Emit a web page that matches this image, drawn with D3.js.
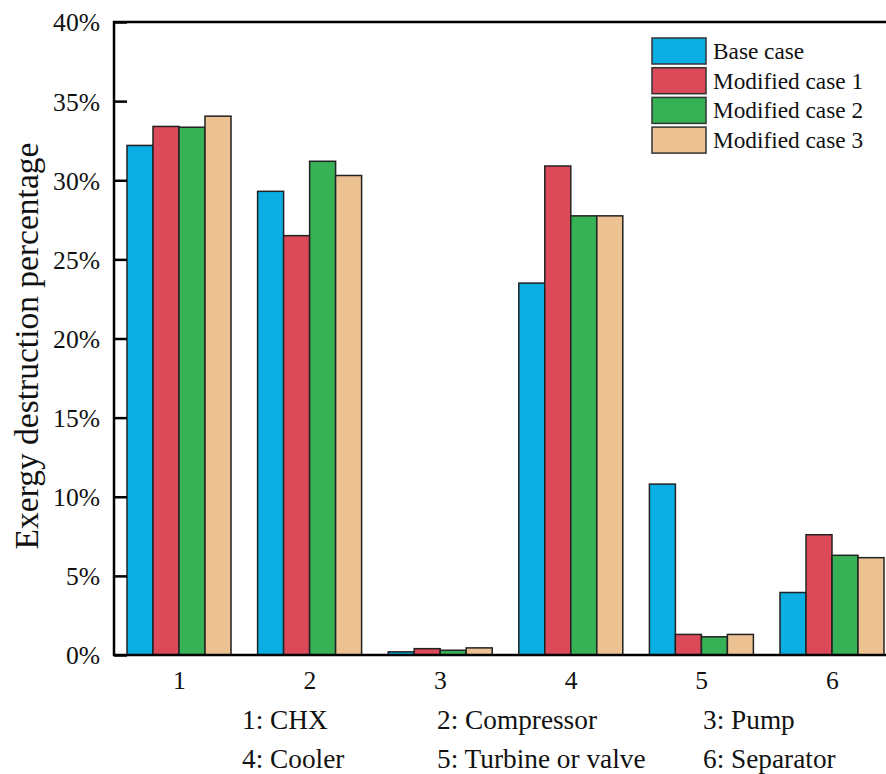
<!DOCTYPE html>
<html>
<head>
<meta charset="utf-8">
<script src="https://cdn.jsdelivr.net/npm/d3@7"></script>
<style>
  body { margin: 0; background: #fff; }
</style>
</head>
<body>
<div id="chart"></div>
<script>
// data
var categories = ["1", "2", "3", "4", "5", "6"];
var seriesNames = ["Base case", "Modified case 1", "Modified case 2", "Modified case 3"];
var baseCase = [32.2, 29.3, 0.2, 23.5, 10.8, 3.95];
var modified1 = [33.4, 26.5, 0.4, 30.9, 1.3, 7.6];
var modified2 = [33.35, 31.2, 0.3, 27.75, 1.15, 6.3];
var modified3 = [34.05, 30.3, 0.45, 27.75, 1.3, 6.15];
var yTicks = [0, 5, 10, 15, 20, 25, 30, 35, 40];
var notes = [["1: CHX", "2: Compressor", "3: Pump"],
             ["4: Cooler", "5: Turbine or valve", "6: Separator"]];

var colors = ["#0aaee2", "#dc4a5a", "#37b155", "#ecc293"];
var series = [baseCase, modified1, modified2, modified3];
var serif = "'Liberation Serif', 'Times New Roman', serif";

var W = 886, H = 774;
var margin = {left: 114, top: 22, bottom: 119};
var plotBottom = H - margin.bottom;

var svg = d3.select("#chart").append("svg")
	.attr("width", W)
	.attr("height", H)
	.style("font-family", serif);

// band scale runs past the right edge like the source figure
var x = d3.scaleBand()
	.domain(categories)
	.range([margin.left, margin.left + 6 * 130.6])
	.paddingInner(0)
	.paddingOuter(0);

var x1 = d3.scaleBand()
	.domain(d3.range(series.length))
	.range([13, 130.6 - 13.6]);

var y = d3.scaleLinear()
	.domain([0, 40])
	.range([plotBottom, margin.top]);

// bars
series.forEach(function(vals, s) {
	svg.append("g").selectAll("rect")
		.data(vals)
		.enter().append("rect")
			.attr("x", function(d, i) { return x(categories[i]) + x1(s); })
			.attr("y", function(d) { return y(d); })
			.attr("width", x1.bandwidth())
			.attr("height", function(d) { return plotBottom - y(d); })
			.attr("fill", colors[s])
			.attr("stroke", "#222")
			.attr("stroke-width", 1.5);
});

// y axis, ticks pointing inward
var yAxis = d3.axisRight(y)
	.tickValues(yTicks)
	.tickSize(13)
	.tickFormat(function(d) { return d + "%"; });

var gy = svg.append("g")
	.attr("transform", "translate(" + margin.left + ",0)")
	.call(yAxis)
	.attr("font-family", serif)
	.attr("font-size", 25.6);
gy.select(".domain").remove();
gy.selectAll(".tick line").attr("stroke", "#000").attr("stroke-width", 2.5);
gy.selectAll(".tick text")
	.attr("x", -14)
	.attr("dy", "0.35em")
	.attr("text-anchor", "end")
	.attr("fill", "#111");

// frame lines
svg.append("line")
	.attr("x1", margin.left).attr("x2", margin.left)
	.attr("y1", margin.top - 1).attr("y2", plotBottom + 1)
	.attr("stroke", "#000").attr("stroke-width", 2.5);
svg.append("line")
	.attr("x1", margin.left - 1).attr("x2", W)
	.attr("y1", margin.top).attr("y2", margin.top)
	.attr("stroke", "#000").attr("stroke-width", 2.5);
svg.append("line")
	.attr("x1", margin.left - 1).attr("x2", W)
	.attr("y1", plotBottom).attr("y2", plotBottom)
	.attr("stroke", "#000").attr("stroke-width", 2.5);

// x labels
var xAxis = d3.axisBottom(x).tickSize(0).tickPadding(16);
var gx = svg.append("g")
	.attr("transform", "translate(0," + plotBottom + ")")
	.call(xAxis)
	.attr("font-family", serif)
	.attr("font-size", 25.6);
gx.select(".domain").remove();
gx.selectAll(".tick text").attr("fill", "#111");

// y title
svg.append("text")
	.attr("transform", "translate(38," + 346 + ") rotate(-90)")
	.attr("text-anchor", "middle")
	.attr("font-family", serif)
	.attr("font-size", 33.5)
	.attr("fill", "#111")
	.text("Exergy destruction percentage");

// component key below the axis
var noteX = [242, 437, 703];
var noteY = [729, 768];
notes.forEach(function(row, r) {
	row.forEach(function(t, c) {
		svg.append("text")
			.attr("x", noteX[c])
			.attr("y", noteY[r])
			.attr("font-family", serif)
			.attr("font-size", 27.3)
			.attr("fill", "#111")
			.text(t);
	});
});

// legend
var legend = svg.append("g").attr("transform", "translate(652,38)");
seriesNames.forEach(function(name, i) {
	legend.append("rect")
		.attr("x", 0)
		.attr("y", i * 29.7)
		.attr("width", 54)
		.attr("height", 26)
		.attr("fill", colors[i])
		.attr("stroke", "#333")
		.attr("stroke-width", 1.5);
	legend.append("text")
		.attr("x", 61)
		.attr("y", i * 29.7 + 21)
		.attr("font-family", serif)
		.attr("font-size", 23.3)
		.attr("fill", "#111")
		.text(name);
});
</script>
</body>
</html>
